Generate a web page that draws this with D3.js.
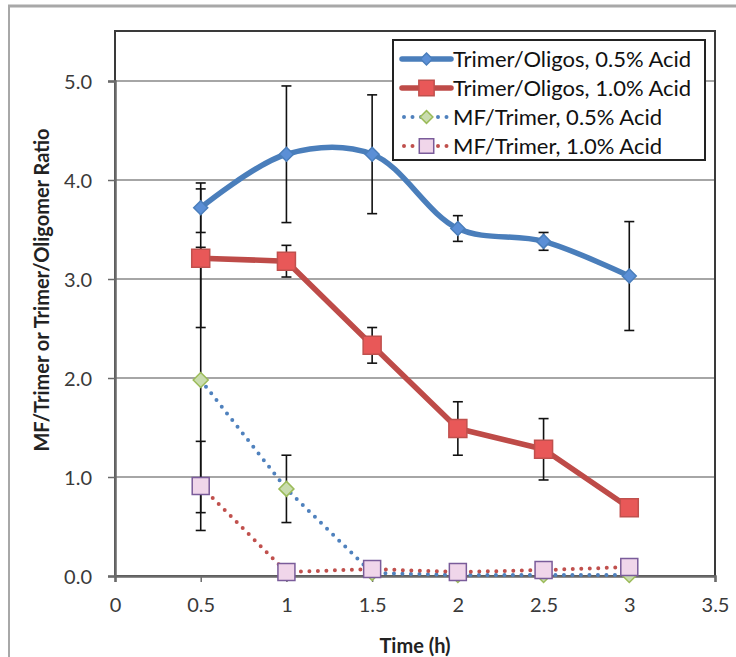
<!DOCTYPE html>
<html><head><meta charset="utf-8">
<script src="https://cdn.jsdelivr.net/npm/d3@7/dist/d3.min.js"></script>
<style>body{margin:0;background:#fff;} svg{display:block;}</style>
</head><body>
<script>
const time = [0.5, 1, 1.5, 2, 2.5, 3];
const trimerOligos05 = [3.72, 4.26, 4.26, 3.51, 3.38, 3.03];
const trimerOligos05Err = [0.25, 0.69, 0.60, 0.13, 0.09, 0.55];
const trimerOligos10 = [3.21, 3.18, 2.33, 1.49, 1.28, 0.69];
const trimerOligos10Err = [0.70, 0.16, 0.18, 0.27, 0.31, 0.0];
const mfTrimer05 = [1.98, 0.88, 0.03, 0.01, 0.01, 0.01];
const mfTrimer05Err = [1.34, 0.34, 0, 0, 0, 0];
const mfTrimer10 = [0.91, 0.04, 0.07, 0.04, 0.06, 0.09];
const mfTrimer10Err = [0.45, 0, 0, 0, 0, 0];
const xTicks = [0, 0.5, 1, 1.5, 2, 2.5, 3, 3.5];
const yTicks = [0, 1, 2, 3, 4, 5];
const seriesNames = ["Trimer/Oligos, 0.5% Acid", "Trimer/Oligos, 1.0% Acid", "MF/Trimer, 0.5% Acid", "MF/Trimer, 1.0% Acid"];

const W = 736, H = 657;
const M = {left: 115, right: 715, top: 31, bottom: 576};
const svg = d3.select("body").append("svg").attr("width", W).attr("height", H);
const font = "Lato, 'Open Sans', sans-serif";

// outer frame
svg.append("line").attr("x1", 8).attr("x2", W).attr("y1", 6).attr("y2", 6).attr("stroke", "#a8a8a8").attr("stroke-width", 3);
svg.append("line").attr("x1", 9).attr("x2", 9).attr("y1", 6).attr("y2", H).attr("stroke", "#a8a8a8").attr("stroke-width", 2);

const x = d3.scaleLinear().domain([0, 3.5]).range([M.left, M.right]);
const y = d3.scaleLinear().domain([0, 5]).range([M.bottom, M.bottom - 5 * 99]);

// gridlines
svg.append("g").selectAll("line").data(yTicks.filter(d => d > 0)).join("line")
  .attr("x1", M.left).attr("x2", M.right).attr("y1", d => y(d)).attr("y2", d => y(d))
  .attr("stroke", "#a6a6a6").attr("stroke-width", 2);

// plot border
svg.append("rect").attr("x", M.left).attr("y", M.top).attr("width", M.right - M.left).attr("height", M.bottom - M.top)
  .attr("fill", "none").attr("stroke", "#3a3a3a").attr("stroke-width", 2);

// axes
const xAxis = svg.append("g").attr("transform", `translate(0,${M.bottom})`)
  .call(d3.axisBottom(x).tickValues(xTicks).tickFormat(d3.format("")).tickSize(6).tickPadding(16));
const yAxis = svg.append("g").attr("transform", `translate(${M.left},0)`)
  .call(d3.axisLeft(y).tickValues(yTicks).tickFormat(d3.format(".1f")).tickSize(7).tickPadding(16));
[xAxis, yAxis].forEach(a => {
  a.select(".domain").attr("stroke", "#6a6a6a").attr("stroke-width", 2.5);
  a.selectAll(".tick line").attr("stroke", "#6a6a6a").attr("stroke-width", 1.5);
  a.selectAll("text").attr("font-family", font).attr("font-size", 20).attr("fill", "#3a3a3a");
});
yAxis.selectAll("text").attr("dy", "0.38em");

// axis titles
svg.append("text").attr("x", 415).attr("y", 653).attr("text-anchor", "middle")
  .attr("font-family", font).attr("font-weight", "bold").attr("font-size", 20).attr("fill", "#222").text("Time (h)");
svg.append("text").attr("transform", `translate(49,290) rotate(-90)`).attr("text-anchor", "middle")
  .attr("font-family", font).attr("font-weight", "bold").attr("font-size", 20).attr("fill", "#222")
  .text("MF/Trimer or Trimer/Oligomer Ratio");

const series = [
  {vals: trimerOligos05, err: trimerOligos05Err, color: "#4a7ebb", width: 5.5, dash: null, curve: d3.curveCatmullRom.alpha(0.5), marker: "diamond", fill: "#5b8fd6", mstroke: "#4a7ebb", size: 14},
  {vals: trimerOligos10, err: trimerOligos10Err, color: "#be4b48", width: 5.5, dash: null, curve: d3.curveLinear, marker: "square", fill: "#e85858", mstroke: "#c0504d", size: 18},
  {vals: mfTrimer05, err: mfTrimer05Err, color: "#4f81bd", width: 4, dash: "0 8.5", curve: d3.curveLinear, marker: "diamond", fill: "#c9dcae", mstroke: "#9bbb59", size: 15},
  {vals: mfTrimer10, err: mfTrimer10Err, color: "#c0504d", width: 4, dash: "0 8.5", curve: d3.curveLinear, marker: "square", fill: "#f0d6ea", mstroke: "#7a5c9a", size: 17},
];

function markerPath(type, s) {
  const h = s / 2;
  if (type === "diamond") return `M0,${-h}L${h},0L0,${h}L${-h},0Z`;
  return `M${-h},${-h}H${h}V${h}H${-h}Z`;
}

// error bars
const eb = svg.append("g");
series.forEach(s => {
  s.vals.forEach((v, i) => {
    const e = s.err[i];
    if (!e) return;
    const cx = x(time[i]);
    eb.append("line").attr("x1", cx).attr("x2", cx).attr("y1", y(v - e)).attr("y2", y(v + e)).attr("stroke", "#111").attr("stroke-width", 1.6);
    [v - e, v + e].forEach(t => eb.append("line").attr("x1", cx - 5).attr("x2", cx + 5).attr("y1", y(t)).attr("y2", y(t)).attr("stroke", "#111").attr("stroke-width", 1.6));
  });
});

// lines & markers (dotted series first, then solid)
const order = [2, 3, 0, 1];
order.forEach(k => {
  const s = series[k];
  const line = d3.line().x((d, i) => x(time[i])).y(d => y(d)).curve(s.curve);
  const p = svg.append("path").datum(s.vals).attr("d", line).attr("fill", "none")
    .attr("stroke", s.color).attr("stroke-width", s.width).attr("stroke-linecap", "round").attr("stroke-linejoin", "round");
  if (s.dash) p.attr("stroke-dasharray", s.dash);
});
order.forEach(k => {
  const s = series[k];
  svg.append("g").selectAll("path").data(s.vals).join("path")
    .attr("transform", (d, i) => `translate(${x(time[i])},${y(d)})`)
    .attr("d", markerPath(s.marker, s.size)).attr("fill", s.fill).attr("stroke", s.mstroke).attr("stroke-width", 1.5);
});

// legend
const L = {x: 393, y: 40, w: 312, h: 120};
const lg = svg.append("g");
lg.append("rect").attr("x", L.x).attr("y", L.y).attr("width", L.w).attr("height", L.h).attr("fill", "#fff").attr("stroke", "#222").attr("stroke-width", 2);
series.forEach((s, k) => {
  const ry = L.y + 19 + k * 29;
  const x0 = L.x + 9, x1 = L.x + 58;
  const ln = lg.append("line").attr("x1", x0).attr("x2", x1).attr("y1", ry).attr("y2", ry)
    .attr("stroke", s.color).attr("stroke-width", s.width).attr("stroke-linecap", "round");
  if (s.dash) ln.attr("stroke-dasharray", s.dash).attr("x1", x0 + 2);
  lg.append("path").attr("transform", `translate(${(x0 + x1) / 2},${ry})`).attr("d", markerPath(s.marker, s.size * 0.85))
    .attr("fill", s.fill).attr("stroke", s.mstroke).attr("stroke-width", 1.5);
  lg.append("text").attr("x", x1 + 2).attr("y", ry).attr("dy", "0.36em").attr("font-family", font).attr("font-size", 22)
    .attr("fill", "#111").text(seriesNames[k]);
});
</script>
</body></html>
